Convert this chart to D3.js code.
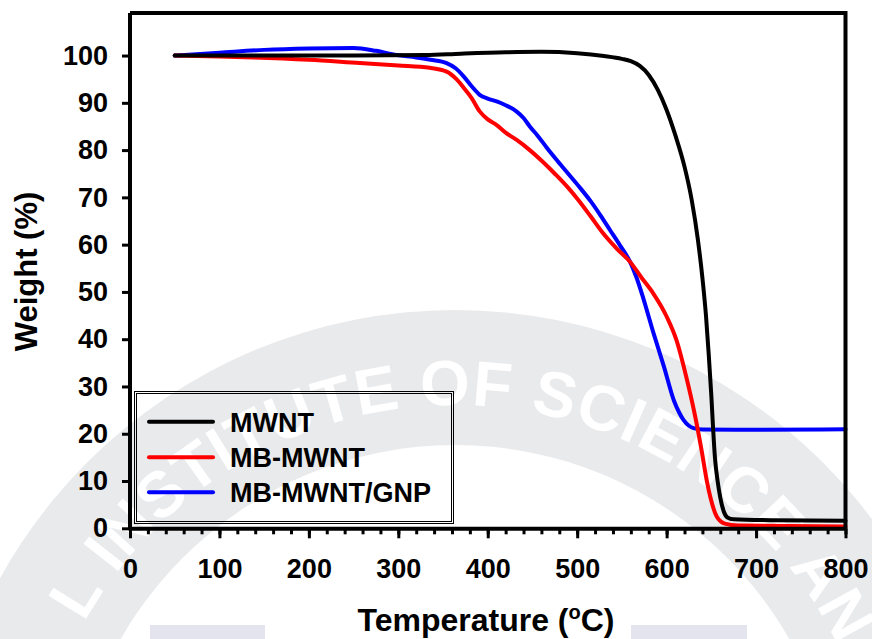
<!DOCTYPE html>
<html>
  <head>
    <meta charset="UTF-8">
    <style>
      body {
        margin: 0;
        background: #fff;
      }

      svg {
        display: block;
        font-family: 'Liberation Sans', Arial, sans-serif;
        font-weight: bold;
      }

      .tick text {
        font-size: 27px;
        font-weight: bold;
        fill: #000;
      }
    </style>
    <script src="https://d3js.org/d3.v7.min.js"></script>
  </head>

  <body>
    <svg id="tga-chart"></svg>

    <script type="text/javascript">
      // temperature (°C) and weight (%)
      let mwntTemp = [50, 150, 250, 330, 370, 420, 460, 500, 530, 550, 560, 570, 580, 590, 600, 610, 620, 628, 635, 640, 644, 647, 650, 652, 654, 657, 660, 664, 668, 675, 720, 800]
      let mwntWeight = [100, 100, 100, 100.1, 100.4, 100.7, 100.8, 100.5, 99.9, 99.3, 98.8, 97.8, 95.9, 92.8, 88.5, 83, 76.5, 69.5, 61, 53, 45, 37, 28, 21, 15, 10, 6.5, 3.5, 2.3, 1.9, 1.7, 1.6]

      let mbTemp = [50, 100, 138, 200, 257, 300, 335, 354, 365, 373, 382, 391, 400, 410, 420, 432, 447, 460, 475, 490, 501, 515, 529, 545, 559, 572, 585, 600, 611, 622, 632, 639, 645, 649, 656, 665, 680, 800]
      let mbWeight = [100, 99.8, 99.6, 99.1, 98.4, 97.9, 97.4, 96.6, 95, 93.2, 91, 88.2, 86.5, 85.3, 83.7, 82.2, 80, 77.8, 75, 72, 69.5, 66, 62.4, 59, 56.4, 53, 49.7, 44.8, 39.8, 32, 23.6, 16.6, 10, 6.5, 2.5, 1, 0.6, 0.4]

      let gnpTemp = [50, 100, 150, 200, 250, 275, 298, 320, 336, 354, 364, 373, 382, 391, 400, 410, 420, 432, 440, 447, 456, 466, 478, 490, 502, 515, 526, 537, 548, 559, 566, 574, 585, 597, 608, 614, 619, 625, 630, 640, 700, 800]
      let gnpWeight = [100, 100.6, 101.2, 101.5, 101.6, 101, 100.1, 99.6, 99.1, 98.4, 97.3, 95.6, 93.5, 91.7, 90.9, 90.3, 89.5, 88.2, 86.8, 85, 83, 80.5, 77.7, 75, 72.3, 69.2, 66.2, 63, 59.8, 56.4, 53.2, 48.6, 41.5, 34.2, 27.1, 24.5, 22.9, 21.7, 21.2, 20.9, 20.85, 20.95]

      let seriesNames = ['MWNT', 'MB-MWNT', 'MB-MWNT/GNP']
      let seriesColors = ['#000000', '#ff0000', '#0000ff']

      let xTicks = [0, 100, 200, 300, 400, 500, 600, 700, 800]
      let yTicks = [0, 10, 20, 30, 40, 50, 60, 70, 80, 90, 100]

      let width = 872
      let height = 639
      let plotLeft = 130
      let plotRight = 845.5
      let plotBottom = 528.3
      let plotTop = 13

      let svg = d3.select('#tga-chart')
        .attr('width', width)
        .attr('height', height)

      let x = d3.scaleLinear().domain([0, 800]).range([plotLeft, plotRight])
      let y = d3.scaleLinear().domain([0, 109]).range([plotBottom, plotTop])

      function drawWatermark() {
        let wm = svg.append('g')
        let cx = 455, cy = 830
        wm.append('path')
          .attr('transform', `translate(${cx},${cy})`)
          .attr('d', d3.arc()({innerRadius: 385, outerRadius: 520, startAngle: -Math.PI, endAngle: Math.PI}))
          .attr('fill', '#e9eaec')

        let r = 425
        wm.append('path')
          .attr('id', 'wm-path')
          .attr('fill', 'none')
          .attr('d', `M ${cx - r},${cy} A ${r},${r} 0 0 1 ${cx + r},${cy}`)
        wm.append('text')
          .attr('font-size', 64)
          .attr('fill', '#ffffff')
          .attr('letter-spacing', 1)
          .append('textPath')
          .attr('href', '#wm-path')
          .attr('startOffset', '51%')
          .attr('text-anchor', 'middle')
          .text('L INSTITUTE OF SCIENCE AN')

        wm.append('rect').attr('x', 150).attr('y', 625).attr('width', 115).attr('height', 14).attr('fill', '#e4e4ee')
        wm.append('rect').attr('x', 631).attr('y', 625).attr('width', 116).attr('height', 14).attr('fill', '#e4e4ee')
      }

      function drawCurves() {
        let line = d3.line()
          .x(d => x(d[0]))
          .y(d => y(d[1]))
          .curve(d3.curveMonotoneX)

        let series = [
          d3.zip(mwntTemp, mwntWeight),
          d3.zip(mbTemp, mbWeight),
          d3.zip(gnpTemp, gnpWeight),
        ]

        // blue first, black last
        ;[2, 1, 0].forEach(i => {
          svg.append('path')
            .attr('d', line(series[i]))
            .attr('fill', 'none')
            .attr('stroke', seriesColors[i])
            .attr('stroke-width', 4)
            .attr('stroke-linejoin', 'round')
            .attr('stroke-linecap', 'round')
        })
      }

      function drawAxes() {
        // frame top and right
        svg.append('path')
          .attr('d', `M ${plotLeft},${plotTop} H ${plotRight} V ${plotBottom}`)
          .attr('fill', 'none')
          .attr('stroke', '#000')
          .attr('stroke-width', 4)

        let minor = svg.append('g')
          .attr('transform', `translate(0,${plotBottom})`)
          .call(d3.axisBottom(x).tickValues(d3.range(0, 801, 20)).tickSize(6).tickSizeOuter(0).tickFormat(''))
        minor.selectAll('line').attr('stroke-width', 3)
        minor.select('.domain').remove()

        let axisX = svg.append('g')
          .attr('transform', `translate(0,${plotBottom})`)
          .call(d3.axisBottom(x).tickValues(xTicks).tickSize(10).tickPadding(21).tickSizeOuter(0))
        axisX.selectAll('line').attr('stroke-width', 3)
        axisX.select('.domain').attr('stroke-width', 4)

        let axisY = svg.append('g')
          .attr('transform', `translate(${plotLeft},0)`)
          .call(d3.axisLeft(y).tickValues(yTicks).tickSize(8).tickPadding(14).tickSizeOuter(0))
        axisY.selectAll('line').attr('stroke-width', 3)
        axisY.select('.domain').attr('stroke-width', 4).attr('d', `M0,${plotBottom + 2}V${plotTop}`)

        let xTitle = svg.append('text')
          .attr('x', 486)
          .attr('y', 631)
          .attr('text-anchor', 'middle')
          .attr('font-size', 32)
        xTitle.append('tspan').text('Temperature (')
        xTitle.append('tspan').attr('font-size', 20).attr('dy', -12).text('o')
        xTitle.append('tspan').attr('dy', 12).text('C)')

        svg.append('text')
          .attr('transform', `translate(37,${(190 + 353) / 2}) rotate(-90)`)
          .attr('text-anchor', 'middle')
          .attr('font-size', 31)
          .text('Weight (%)')
      }

      function drawLegend() {
        let g = svg.append('g')
        g.append('rect')
          .attr('x', 134.5).attr('y', 391.5).attr('width', 319).attr('height', 132)
          .attr('fill', 'none').attr('stroke', '#000').attr('stroke-width', 1)
        g.append('rect')
          .attr('x', 136.5).attr('y', 393.5).attr('width', 315).attr('height', 128)
          .attr('fill', 'none').attr('stroke', '#000').attr('stroke-width', 1)

        let rowY = [421.7, 457.3, 492.3]
        seriesNames.forEach((name, i) => {
          g.append('line')
            .attr('x1', 149).attr('x2', 213)
            .attr('y1', rowY[i]).attr('y2', rowY[i])
            .attr('stroke', seriesColors[i])
            .attr('stroke-width', 4)
            .attr('stroke-linecap', 'round')
          g.append('text')
            .attr('x', 230)
            .attr('y', rowY[i] + 10)
            .attr('font-size', 27)
            .text(name)
        })
      }

      drawWatermark()
      drawCurves()
      drawAxes()
      drawLegend()
    </script>
  </body>
</html>
